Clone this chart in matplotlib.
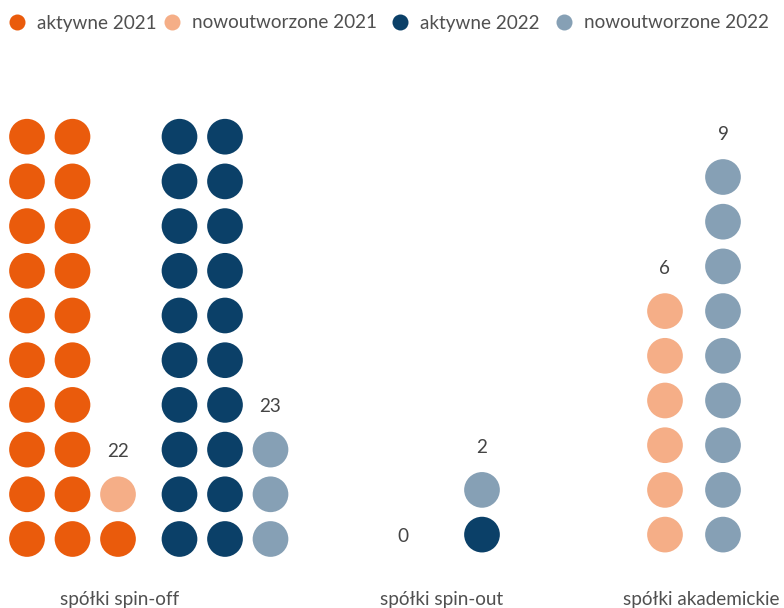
import matplotlib.pyplot as plt

# liczba spółek w podziale na typ i rok
categories = ["spółki spin-off", "spółki spin-out", "spółki akademickie"]
aktywne_2021 = [21, 0, 0]
nowe_2021 = [1, 0, 6]
aktywne_2022 = [20, 1, 0]
nowe_2022 = [3, 1, 9]

legend_labels = ["aktywne 2021", "nowoutworzone 2021", "aktywne 2022", "nowoutworzone 2022"]
colors = ["#EA5B0C", "#F5AE87", "#0B4068", "#86A0B5"]

# układ w pikselach
W, H = 784, 608
PER_COL = 10
COL_STEP = 45.5
ROW_STEP = 44.7
DOT = 35.7
block_x = {2021: [27, 403, 665], 2022: [179.5, 482, 723]}
base_y = [539, 534.6, 534.6]
cat_label_x = [120, 442, 701]

FONT = "Lato"
TEXT_COLOR = "#505050"
FS = 13.6

fig = plt.figure(figsize=(W / 100, H / 100), dpi=100)
ax = fig.add_axes([0, 0, 1, 1])
ax.set_xlim(0, W)
ax.set_ylim(H, 0)
ax.axis("off")

dot_s = (DOT * 72 / 100) ** 2


def draw_block(x0, y0, n_active, n_new, c_active, c_new):
    kinds = [c_active] * n_active + [c_new] * n_new
    xs, ys = [], []
    for i in range(len(kinds)):
        xs.append(x0 + (i // PER_COL) * COL_STEP)
        ys.append(y0 - (i % PER_COL) * ROW_STEP)
    if kinds:
        ax.scatter(xs, ys, s=dot_s, c=kinds, linewidths=0, zorder=3)
    total = n_active + n_new
    last = (total - 1) // PER_COL if total else 0
    in_last = total - last * PER_COL if total else 0
    ax.text(x0 + last * COL_STEP, y0 - in_last * ROW_STEP + 2, str(total),
            ha="center", va="center", fontsize=FS, color="#444444", family=FONT)


for g in range(len(categories)):
    draw_block(block_x[2021][g], base_y[g], aktywne_2021[g], nowe_2021[g], colors[0], colors[1])
    draw_block(block_x[2022][g], base_y[g], aktywne_2022[g], nowe_2022[g], colors[2], colors[3])
    ax.text(cat_label_x[g], 599, categories[g], ha="center", va="center",
            fontsize=FS, color=TEXT_COLOR, family=FONT)

# legenda
legend_x = [17, 172, 400, 564]
for lx, lab, col in zip(legend_x, legend_labels, colors):
    ax.scatter([lx], [22], s=(16 * 0.72) ** 2, c=col, linewidths=0)
    ax.text(lx + 20, 23, lab, ha="left", va="center", fontsize=FS,
            color=TEXT_COLOR, family=FONT)

fig.savefig("out.png", dpi=100)
